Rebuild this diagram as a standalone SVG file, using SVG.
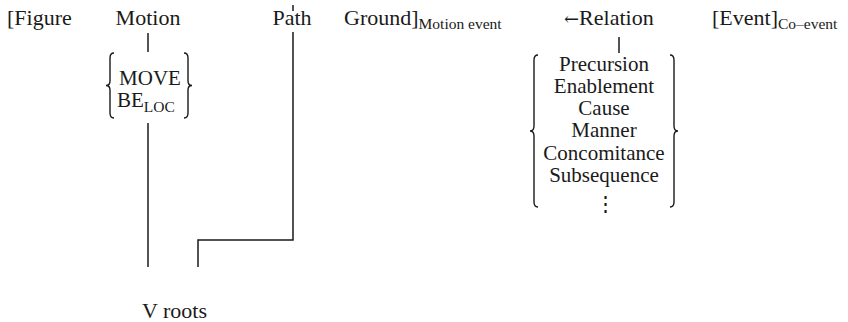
<svg xmlns="http://www.w3.org/2000/svg" width="848" height="322" viewBox="0 0 848 322">
<style>
text{font-family:"Liberation Serif","Times New Roman",serif;font-size:22px;fill:#1a1a1a}
.m{text-anchor:middle}
.l{font-size:21px}
.sub{font-size:15.5px}
.arr{font-family:"DejaVu Serif",serif;font-size:18px}
.ln{fill:none;stroke:#1a1a1a;stroke-width:1.5}
.br{fill:none;stroke:#1a1a1a;stroke-width:1.4}
</style>
<rect width="848" height="322" fill="#ffffff"/>
<g id="figure"><text x="7" y="25">[Figure</text></g>
<g id="motion"><text class="m" x="148" y="25">Motion</text></g>
<g id="path"><text class="m" x="292" y="25">Path</text></g>
<g id="ground"><text x="344" y="25">Ground]<tspan class="sub" dy="4">Motion event</tspan></text></g>
<g id="relation"><text x="564" y="25"><tspan class="arr">←</tspan>Relation</text></g>
<g id="event"><text x="712" y="25">[Event]<tspan class="sub" dy="4">Co–event</tspan></text></g>
<g id="move-beloc">
<path class="br" d="M114,53 Q110,53 110,58 L110,81 Q110,85.5 106,85.5 Q110,85.5 110,90 L110,113 Q110,118 114,118"/>
<path class="br" d="M184,53 Q188,53 188,58 L188,81 Q188,85.5 192,85.5 Q188,85.5 188,90 L188,113 Q188,118 184,118"/>
<text class="m l" x="150" y="85">MOVE</text>
<text class="l" x="117" y="107">BE<tspan class="sub" dy="5">LOC</tspan></text>
</g>
<g id="relation-list">
<path class="br" d="M538,55 Q534,55 534,60 L534,126 Q534,131 530,131 Q534,131 534,136 L534,202 Q534,207 538,207"/>
<path class="br" d="M670,55 Q674,55 674,60 L674,126 Q674,131 678,131 Q674,131 674,136 L674,202 Q674,207 670,207"/>
<text class="m l" x="604" y="71">Precursion</text>
<text class="m l" x="604" y="93">Enablement</text>
<text class="m l" x="604" y="115">Cause</text>
<text class="m l" x="604" y="137">Manner</text>
<text class="m l" x="604" y="160">Concomitance</text>
<text class="m l" x="604" y="182">Subsequence</text>
<text class="m l" x="605" y="211">⋮</text>
</g>
<g id="vroots"><text x="142" y="318">V roots</text></g>
<g id="connectors">
<line class="ln" x1="148" y1="33" x2="148" y2="52"/>
<line class="ln" x1="619" y1="37" x2="619" y2="53"/>
<line class="ln" x1="148" y1="123" x2="148" y2="267"/>
<path class="ln" d="M293,32 V240 H198 V267"/>
<line class="ln" x1="293" y1="5" x2="293" y2="11"/>
</g>
</svg>
